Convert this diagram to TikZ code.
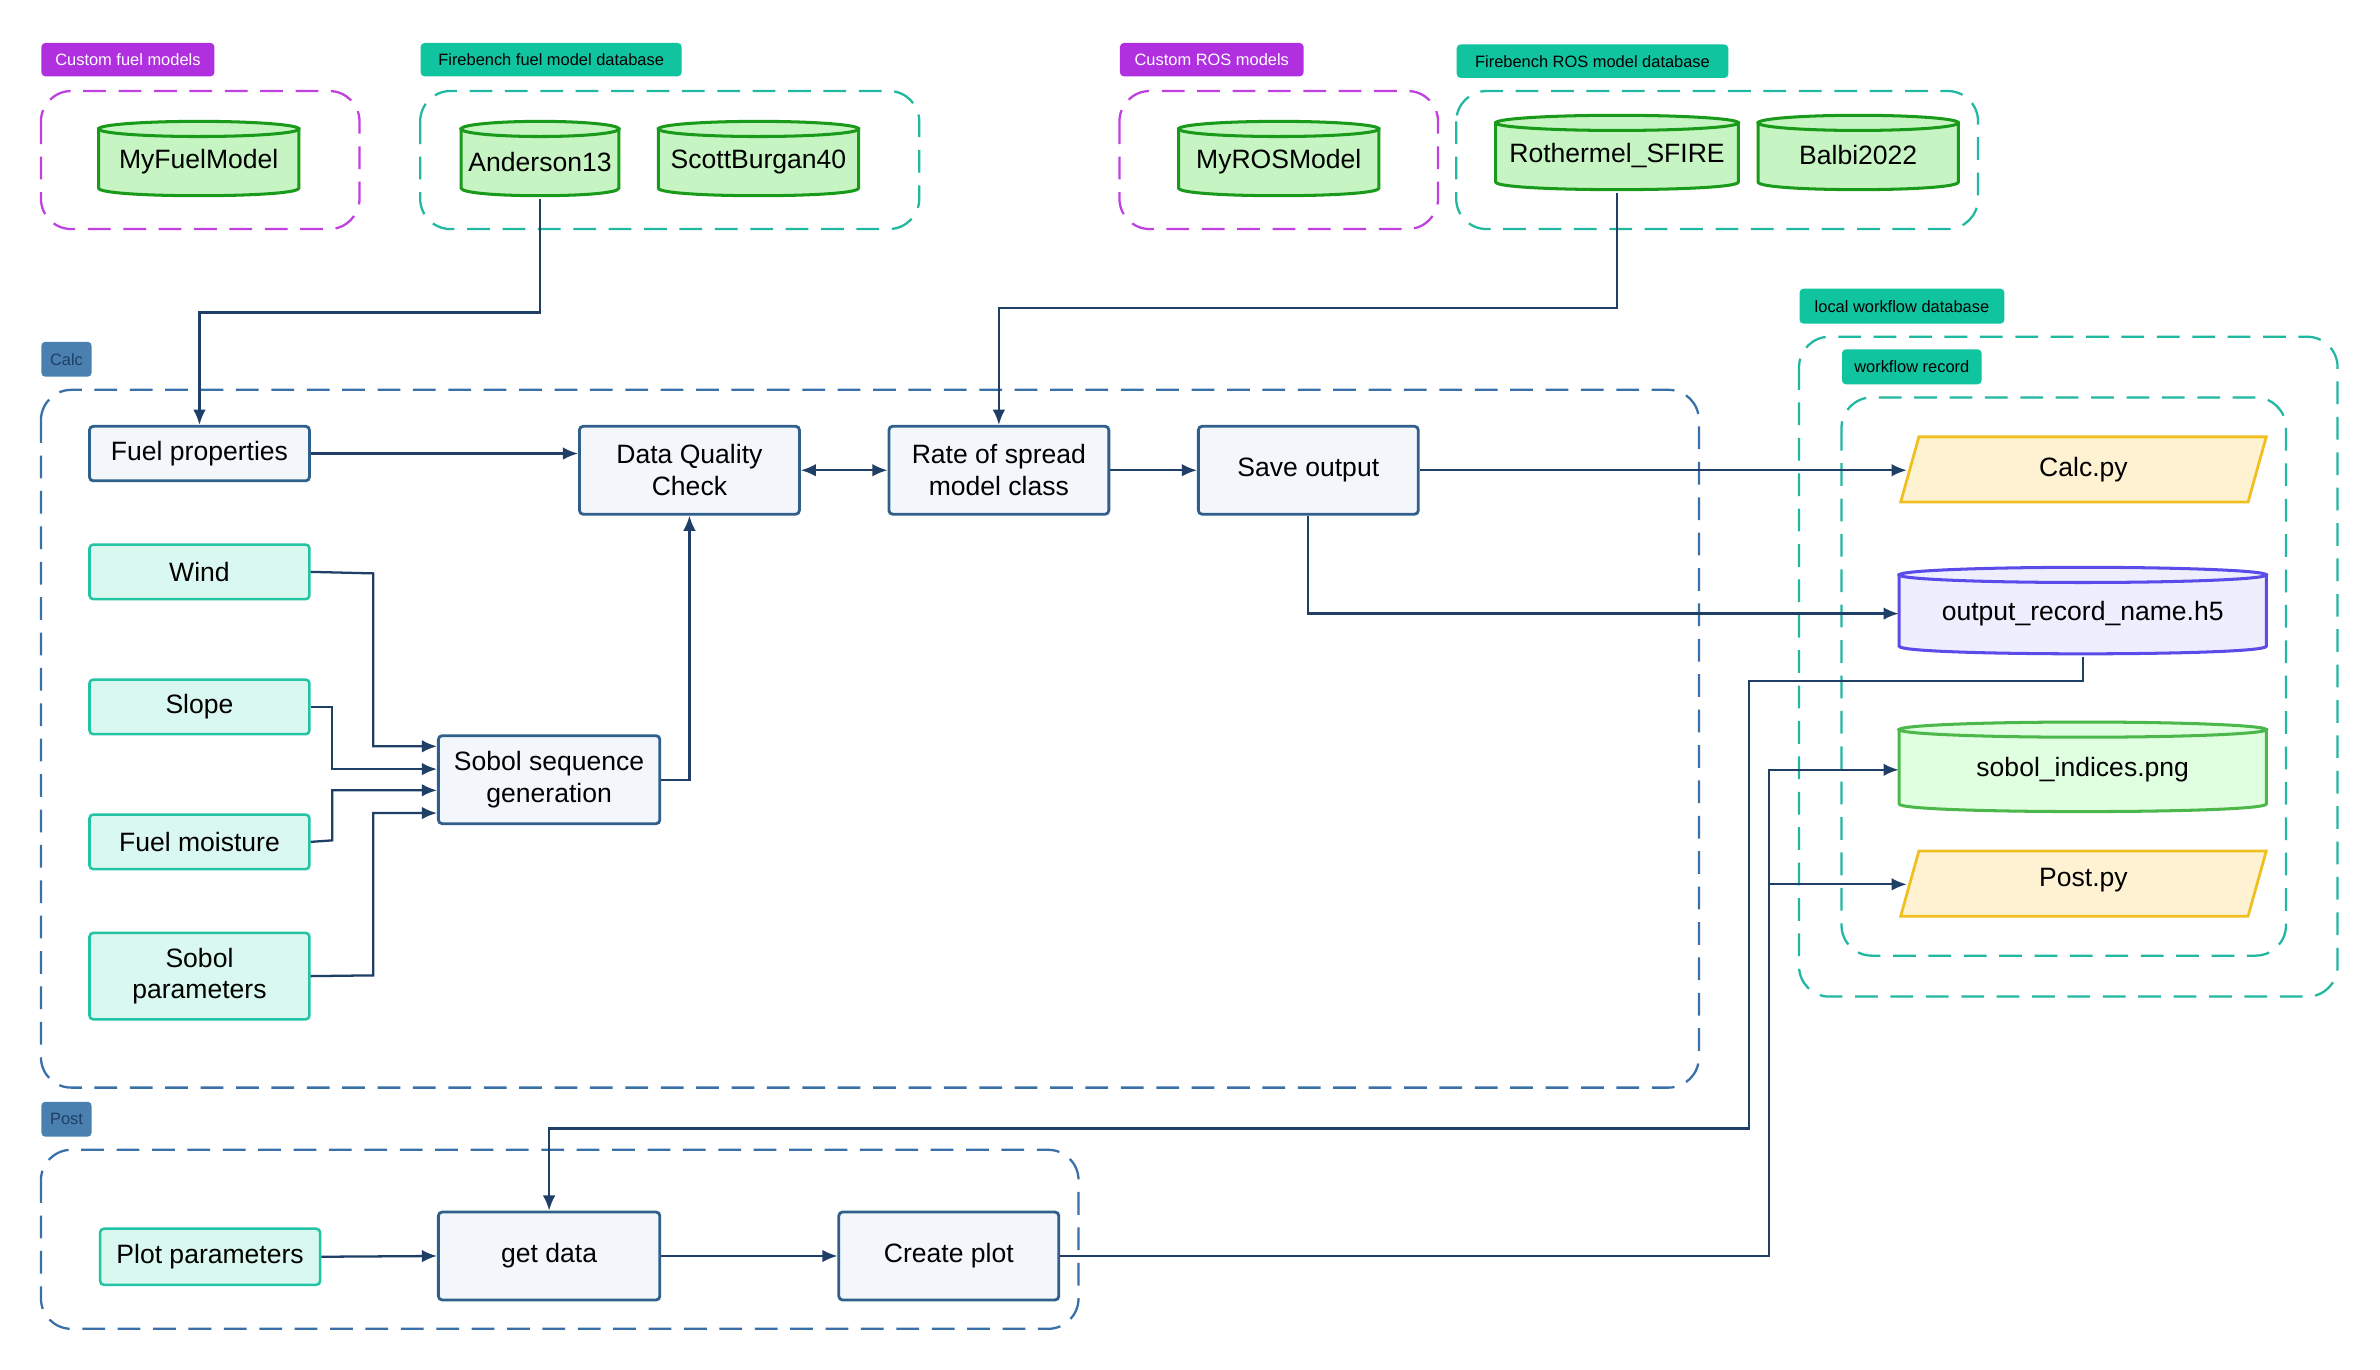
\documentclass[tikz,border=0pt]{standalone}
\usepackage{fontspec}
\setmainfont{Liberation Sans}
\usetikzlibrary{arrows.meta}
\definecolor{proc}{HTML}{2F5F8A}
\definecolor{procf}{HTML}{F3F7FC}
\definecolor{inp}{HTML}{22C4A4}
\definecolor{inpf}{HTML}{D9F8F0}
\definecolor{cylg}{HTML}{1A9A1A}
\definecolor{cylgf}{HTML}{C6F5C3}
\definecolor{purp}{HTML}{C040E0}
\definecolor{purpf}{HTML}{B030E0}
\definecolor{teal}{HTML}{20B8A0}
\definecolor{tealf}{HTML}{10C4A0}
\definecolor{blu}{HTML}{3A70A8}
\definecolor{bluf}{HTML}{4A80B0}
\definecolor{conn}{HTML}{1F3F66}
\definecolor{yel}{HTML}{F0C020}
\definecolor{yelf}{HTML}{FFF2D2}
\definecolor{vio}{HTML}{5B4BE8}
\definecolor{viof}{HTML}{EEEEFF}
\newcommand\mycyl[8]{% name cx top bottom hw draw fill text
 \filldraw[draw=#6,fill=#7,line width=1.2pt] ({#2-#5},#3) -- ({#2-#5},#4) .. controls ({#2-#5},{#4+6.7}) and ({#2+#5},{#4+6.7}) .. ({#2+#5},#4) -- ({#2+#5},#3) -- cycle;
 \filldraw[draw=#6,fill=#7,line width=1.2pt] (#2,#3) ellipse[x radius=#5,y radius=5];
 \node[inner sep=0pt,minimum width={2*#5*0.6pt},minimum height={(#4-#3+10)*0.6pt},font=\fontsize{10.5}{12}\selectfont] (#1) at (#2,{(#3+#4)/2+2}) {#8};}
\begin{document}
\begin{tikzpicture}[x=0.6pt,y=-0.6pt,
 proc/.style={draw=proc,fill=procf,line width=1.1pt,rounded corners=1.5pt,align=center,font=\fontsize{10.5}{12.6}\selectfont,inner sep=0pt},
 inp/.style={draw=inp,fill=inpf,line width=1pt,rounded corners=1.5pt,align=center,font=\fontsize{10.5}{12.6}\selectfont,inner sep=0pt},
 tag/.style={rounded corners=1.5pt,font=\fontsize{6.5}{7}\selectfont,inner sep=0pt,anchor=north west},
 cont/.style={dash pattern=on 9pt off 5pt,line width=0.9pt,rounded corners=12pt},
 arr/.style={draw=conn,line width=0.9pt,-{Latex[length=6pt,width=5pt]}},
 arrb/.style={draw=conn,line width=0.9pt,{Latex[length=6pt,width=5pt]}-{Latex[length=6pt,width=5pt]}}]
\useasboundingbox[fill=white] (0,0) rectangle (1569,903);
% containers
\draw[cont,purp] (27,60) rectangle (237,151);
\draw[cont,teal] (277,60) rectangle (606,151);
\draw[cont,purp] (738,60) rectangle (948,151);
\draw[cont,teal] (960,60) rectangle (1304,151);
\draw[cont,teal] (1186,222) rectangle (1541,657);
\draw[cont,teal] (1214,262) rectangle (1507,630);
\draw[cont,blu] (27,257) rectangle (1120,717);
\draw[cont,blu] (27,758) rectangle (711,876);
% tags
\node[tag,fill=purpf,text=white,minimum width=68.4pt,minimum height=13.2pt] (t1) at (27,28) {Custom fuel models};
\node[tag,fill=tealf,minimum width=103.2pt,minimum height=13.2pt] (t2) at (277,28) {Firebench fuel model database};
\node[tag,fill=purpf,text=white,minimum width=72.6pt,minimum height=13.2pt] (t3) at (738,28) {Custom ROS models};
\node[tag,fill=tealf,minimum width=107.4pt,minimum height=13.2pt] (t4) at (960,29) {Firebench ROS model database};
\node[tag,fill=tealf,minimum width=81pt,minimum height=13.8pt] (t5) at (1186,190) {local workflow database};
\node[tag,fill=tealf,minimum width=55.2pt,minimum height=13.8pt] (t6) at (1214,230) {workflow record};
\node[tag,fill=bluf,text=conn,minimum width=19.8pt,minimum height=13.8pt] (t7) at (27,225) {Calc};
\node[tag,fill=bluf,text=conn,minimum width=19.8pt,minimum height=13.8pt] (t8) at (27,726) {Post};
% cylinders
\mycyl{myfuel}{131}{85}{124}{66}{cylg}{cylgf}{MyFuelModel}
\mycyl{and}{356}{85}{124}{52}{cylg}{cylgf}{Anderson13}
\mycyl{scott}{500}{85}{124}{66}{cylg}{cylgf}{ScottBurgan40}
\mycyl{myros}{843}{85}{124}{66}{cylg}{cylgf}{MyROSModel}
\mycyl{roth}{1066}{81}{120}{80}{cylg}{cylgf}{Rothermel\_SFIRE}
\mycyl{balbi}{1225}{81}{120}{66}{cylg}{cylgf}{Balbi2022}
\mycyl{h5}{1373}{379}{426}{121}{vio}{viof}{output\_record\_name.h5}
\mycyl{png}{1373}{481}{530}{121}{green!60!black!70}{green!12}{sobol\_indices.png}
% parallelograms
\filldraw[draw=yel,fill=yelf,line width=1.1pt] (1265,288) -- (1494,288) -- (1482,331) -- (1253,331) -- cycle;
\node[font=\fontsize{10.5}{12}\selectfont,minimum width=144pt,minimum height=25.8pt,inner sep=0pt] (calcpy) at (1373.5,309.5) {Calc.py};
\filldraw[draw=yel,fill=yelf,line width=1.1pt] (1265,561) -- (1494,561) -- (1482,604) -- (1253,604) -- cycle;
\node[font=\fontsize{10.5}{12}\selectfont,minimum width=144pt,minimum height=25.8pt,inner sep=0pt] (postpy) at (1373.5,580) {Post.py};
% process nodes
\node[proc,minimum width=87pt,minimum height=21.6pt] (fuel) at (131.5,299) {Fuel properties};
\node[proc,minimum width=87pt,minimum height=34.8pt] (dqc) at (454.5,310) {Data Quality\\Check};
\node[proc,minimum width=87pt,minimum height=34.8pt] (ros) at (658.5,310) {Rate of spread\\model class};
\node[proc,minimum width=87pt,minimum height=34.8pt] (save) at (862.5,310) {Save output};
\node[proc,minimum width=87.6pt,minimum height=34.8pt] (sobol) at (362,514) {Sobol sequence\\generation};
\node[proc,minimum width=87.6pt,minimum height=34.8pt] (get) at (362,828) {get data};
\node[proc,minimum width=87pt,minimum height=34.8pt] (plot) at (625.5,828) {Create plot};
% inputs
\node[inp,minimum width=87pt,minimum height=21.6pt] (wind) at (131.5,377) {Wind};
\node[inp,minimum width=87pt,minimum height=21.6pt] (slope) at (131.5,466) {Slope};
\node[inp,minimum width=87pt,minimum height=21.6pt] (moist) at (131.5,555) {Fuel moisture};
\node[inp,minimum width=87pt,minimum height=34.2pt] (sobp) at (131.5,643.5) {Sobol\\parameters};
\node[inp,minimum width=87pt,minimum height=22.2pt] (plotp) at (138.5,828.5) {Plot parameters};
% connectors
\draw[arr] (and.south) -- (356,206) -| (fuel.north);
\draw[arr] (roth.south) -- (1066,203) -| (ros.north);
\draw[arr] (fuel.east) -- (fuel.east -| dqc.west);
\draw[arrb] (dqc.east) -- (ros.west);
\draw[arr] (ros.east) -- (save.west);
\draw[arr] (save.east) -- (1257,310);
\draw[arr] (save.south) |- (h5.west);
\draw[arr] (h5.south) -- (1373,449) -- (1153,449) -- (1153,744) -| (get.north);
\draw[arr] (wind.east) -- (246,378) |- (sobol.west |- 0,492);
\draw[arr] (slope.east) -- (219,466) |- (sobol.west |- 0,507);
\draw[arr] (moist.east) -- (219,554) |- (sobol.west |- 0,521);
\draw[arr] (sobp.east) -- (246,643) |- (sobol.west |- 0,536);
\draw[arr] (sobol.east) -| (dqc.south);
\draw[arr] (plotp.east) -- (get.west);
\draw[arr] (get.east) -- (plot.west);
\draw[arr] (plot.east) -- (1166,828) |- (png.west);
\draw[arr] (1166,583) -- (1257,583);
\end{tikzpicture}
\end{document}
